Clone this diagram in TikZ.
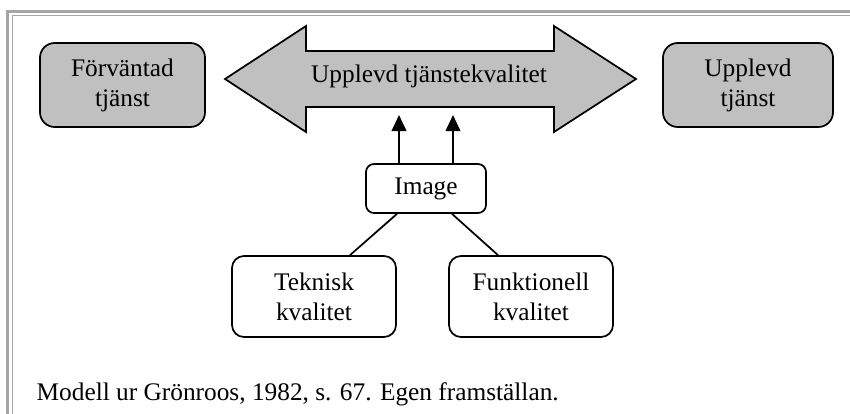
\documentclass[tikz,border=0pt]{standalone}
\usepackage{fontspec}
\setmainfont{Liberation Serif}
\usetikzlibrary{arrows.meta}

\definecolor{boxgray}{RGB}{192,192,192}
\definecolor{framegray}{RGB}{165,165,165}

\begin{document}
\begin{tikzpicture}[x=0.75pt,y=-0.75pt,
        >={Triangle[length=12pt,width=11pt]},
        every node/.style={font=\fontsize{19}{22.5}\selectfont},
        graybox/.style={draw, line width=1.3pt, fill=boxgray, rounded corners=11pt,
            minimum width=123.75pt, minimum height=63pt, align=center, inner sep=0pt},
        whitebox/.style={draw, line width=1.3pt, fill=white, rounded corners=9pt,
            minimum width=123pt, minimum height=60.75pt, align=center, inner sep=0pt},
        imgbox/.style={draw, line width=1.3pt, fill=white, rounded corners=6pt,
            minimum width=90pt, minimum height=36.75pt, inner sep=0pt}]
        \useasboundingbox (0,0) rectangle (850,414);
        
        % frame
        \draw[framegray, line width=2.25pt] (7.5,414) -- (7.5,11) -- (850,11);
        \draw[framegray, line width=1pt] (12.5,414) -- (12.5,15.5) -- (850,15.5);
        
        \node[graybox] (fv) at (122.5,85) {Förväntad\\tjänst};
        \node[graybox, minimum width=127.5pt] (ut) at (748,85) {Upplevd\\tjänst};
        
        \draw[line width=1.3pt, fill=boxgray] (225,79) -- (306,26) -- (306,51) -- (554,51)
            -- (554,26) -- (636,79) -- (554,132) -- (554,107) -- (306,107) -- (306,132) -- cycle;
        \node[anchor=base] (uk) at (429,82) {Upplevd tjänstekvalitet};
        
        \node[imgbox] (img) at (426,188.5) {Image};
        \node[whitebox] (tek) at (314,296.5) {Teknisk\\kvalitet};
        \node[whitebox] (fun) at (531,296.5) {Funktionell\\kvalitet};
        
        \coordinate (a1) at (399,115);
        \coordinate (a2) at (453,115);
        \draw[->, line width=1.3pt] (img.north -| a1) -- (a1);
        \draw[->, line width=1.3pt] (img.north -| a2) -- (a2);
        
        \draw[line width=1.3pt] ([shift={(-29,0)}]img.south) -- ([shift={(36,0)}]tek.north);
        \draw[line width=1.3pt] ([shift={(26,0)}]img.south) -- ([shift={(-33,0)}]fun.north);
        
        \node[anchor=base west] (cap) at (32,400) {Modell ur Grönroos, 1982, s. 67. Egen framställan.};
    \end{tikzpicture}
\end{document}
